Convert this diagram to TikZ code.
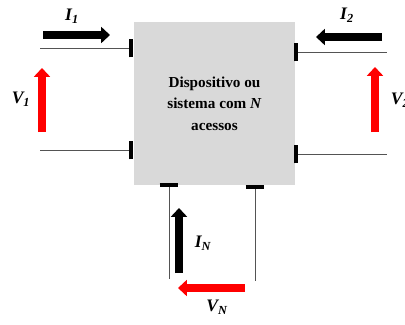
\documentclass[tikz,border=0pt]{standalone}
\usepackage{fontspec}
\setmainfont{Liberation Serif}
\usetikzlibrary{arrows.meta}
\begin{document}
\begin{tikzpicture}[x=0.03cm,y=-0.03cm,
    fio/.style={gray!65!black, line width=0.6pt},
    terminal/.style={line width=2.6pt},
    seta/.style={line width=6.2pt, -{Triangle[length=7.5pt,width=13.5pt]}},
    rotulo/.style={font=\fontsize{15}{17}\selectfont\bfseries\itshape}]
    \useasboundingbox (0,0) rectangle (405,324);
    % dispositivo
    \node (caixa) [fill=gray!30, minimum width=4.83cm, minimum height=4.89cm, inner sep=0pt,
        align=center, font=\fontsize{13}{18.5}\selectfont\bfseries] at (214.5,103.5)
        {Dispositivo ou\\sistema com \textit{N}\\acessos};
    % acesso 1
    \coordinate (a1s) at (131,48);  \coordinate (f1s) at (40,48);
    \coordinate (a1i) at (131,150); \coordinate (f1i) at (40,150);
    \draw[fio] (f1s)--(a1s);
    \draw[fio] (f1i)--(a1i);
    \draw[terminal] ([yshift=-8]a1s)--([yshift=8]a1s);
    \draw[terminal] ([yshift=-8]a1i)--([yshift=8]a1i);
    \coordinate (i1a) at (43,35);  \coordinate (i1b) at (110,35);
    \coordinate (v1a) at (42,132); \coordinate (v1b) at (42,68);
    \draw[seta] (i1a)--(i1b);
    \draw[seta, red] (v1a)--(v1b);
    \node (li1) [rotulo] at (72,16) {I\textsubscript{1}};
    \node (lv1) [rotulo] at (21,99) {V\textsubscript{1}};
    % acesso 2
    \coordinate (a2s) at (296,52);  \coordinate (f2s) at (387,52);
    \coordinate (a2i) at (296,154); \coordinate (f2i) at (387,154);
    \draw[fio] (a2s)--(f2s);
    \draw[fio] (a2i)--(f2i);
    \draw[terminal] ([yshift=-8]a2s)--([yshift=8]a2s);
    \draw[terminal] ([yshift=-8]a2i)--([yshift=8]a2i);
    \coordinate (i2a) at (382,37);  \coordinate (i2b) at (316,37);
    \coordinate (v2a) at (375,132); \coordinate (v2b) at (375,67);
    \draw[seta] (i2a)--(i2b);
    \draw[seta, red] (v2a)--(v2b);
    \node (li2) [rotulo] at (347,15) {I\textsubscript{2}};
    \node (lv2) [rotulo] at (400,100) {V\textsubscript{2}};
    % acesso N
    \coordinate (aNe) at (169,185); \coordinate (fNe) at (169,279);
    \coordinate (aNd) at (255,187); \coordinate (fNd) at (255,281);
    \draw[fio] (aNe)--(fNe);
    \draw[fio] (aNd)--(fNd);
    \draw[terminal] ([xshift=-8]aNe)--([xshift=8]aNe);
    \draw[terminal] ([xshift=-8]aNd)--([xshift=8]aNd);
    \coordinate (iNa) at (179,273); \coordinate (iNb) at (179,208);
    \coordinate (vNa) at (245,288); \coordinate (vNb) at (178,288);
    \draw[seta] (iNa)--(iNb);
    \draw[seta, red] (vNa)--(vNb);
    \node (liN) [rotulo] at (203,243) {I\textsubscript{N}};
    \node (lvN) [rotulo] at (217,307) {V\textsubscript{N}};
\end{tikzpicture}
\end{document}
